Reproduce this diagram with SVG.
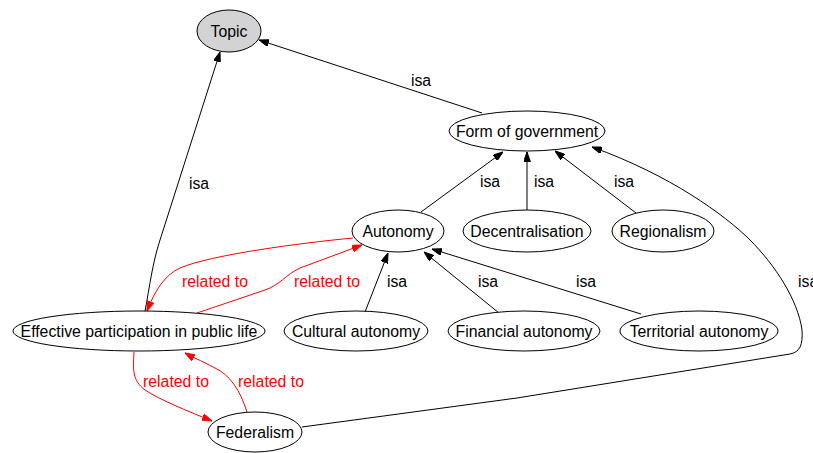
<svg xmlns="http://www.w3.org/2000/svg" width="813" height="453" viewBox="0 0 813 453">
<style>
text{font-family:"Liberation Sans",Arial,sans-serif;font-size:15.8px;text-anchor:middle;fill:#000}
.n ellipse{fill:#fff;stroke:#000;stroke-width:1}
.e path{fill:none;stroke:#000;stroke-width:1}
.e path.r{stroke:#f00}
text.r{fill:#f00}
</style>
<defs>
<marker id="ab" viewBox="0 0 10 7" refX="10" refY="3.5" markerWidth="10" markerHeight="7" markerUnits="userSpaceOnUse" orient="auto"><path d="M0,0L10,3.5L0,7z" fill="#000" stroke="#000"/></marker>
<marker id="ar" viewBox="0 0 10 7" refX="10" refY="3.5" markerWidth="10" markerHeight="7" markerUnits="userSpaceOnUse" orient="auto"><path d="M0,0L10,3.5L0,7z" fill="#f00" stroke="#f00"/></marker>
</defs>
<rect width="813" height="453" fill="#fff"/>
<g id="edges" class="e">
<path d="M482,113L259,40" marker-end="url(#ab)"/>
<path d="M145,311C150,285 152,265 160,240L220,52" marker-end="url(#ab)"/>
<path d="M421,212L503,152" marker-end="url(#ab)"/>
<path d="M527,210L527,152" marker-end="url(#ab)"/>
<path d="M636,213L555,151" marker-end="url(#ab)"/>
<path d="M365,312L388,253" marker-end="url(#ab)"/>
<path d="M499,313L424,252" marker-end="url(#ab)"/>
<path d="M641,314L432,249" marker-end="url(#ab)"/>
<path d="M302,427L517,398L790,354C800,352 803,345 802,330C798,300 775,265 750,240C725,215 670,175 592,147" marker-end="url(#ab)"/>
<path class="r" d="M353,238C300,243 210,255 180,268C165,275 155,290 147,311" marker-end="url(#ar)"/>
<path class="r" d="M197,313L265,290C280,285 285,275 300,268L362,245" marker-end="url(#ar)"/>
<path class="r" d="M134,352C133,370 132,380 145,390C160,400 190,412 212,421" marker-end="url(#ar)"/>
<path class="r" d="M247,412C240,390 230,375 215,368C200,360 192,357 185,353" marker-end="url(#ar)"/>
</g>
<g id="edge-labels">
<text x="421" y="86">isa</text>
<text x="199" y="189">isa</text>
<text x="490" y="187">isa</text>
<text x="544" y="187">isa</text>
<text x="624" y="187">isa</text>
<text x="397" y="287">isa</text>
<text x="488" y="287">isa</text>
<text x="586" y="287">isa</text>
<text x="798" y="287" style="text-anchor:start">isa</text>
<text class="r" x="215" y="287">related to</text>
<text class="r" x="327" y="287">related to</text>
<text class="r" x="176" y="387">related to</text>
<text class="r" x="271" y="387">related to</text>
</g>
<g id="topic" class="n"><ellipse cx="229" cy="31" rx="32" ry="21" style="fill:#d3d3d3"/><text x="229" y="36.5">Topic</text></g>
<g id="form" class="n"><ellipse cx="527" cy="131" rx="78" ry="20"/><text x="527" y="136.5">Form of government</text></g>
<g id="autonomy" class="n"><ellipse cx="398" cy="231" rx="46" ry="21"/><text x="398" y="236.5">Autonomy</text></g>
<g id="decentralisation" class="n"><ellipse cx="527" cy="231" rx="64" ry="21"/><text x="527" y="236.5">Decentralisation</text></g>
<g id="regionalism" class="n"><ellipse cx="663" cy="231" rx="51" ry="21"/><text x="663" y="236.5">Regionalism</text></g>
<g id="effective" class="n"><ellipse cx="139" cy="331" rx="126" ry="20"/><text x="139" y="336.5">Effective participation in public life</text></g>
<g id="cultural" class="n"><ellipse cx="356" cy="331" rx="72" ry="20"/><text x="356" y="336.5">Cultural autonomy</text></g>
<g id="financial" class="n"><ellipse cx="524" cy="331" rx="76" ry="20"/><text x="524" y="336.5">Financial autonomy</text></g>
<g id="territorial" class="n"><ellipse cx="699" cy="331" rx="79" ry="20"/><text x="699" y="336.5">Territorial autonomy</text></g>
<g id="federalism" class="n"><ellipse cx="255" cy="432" rx="47" ry="20"/><text x="255" y="437.5">Federalism</text></g>
</svg>
